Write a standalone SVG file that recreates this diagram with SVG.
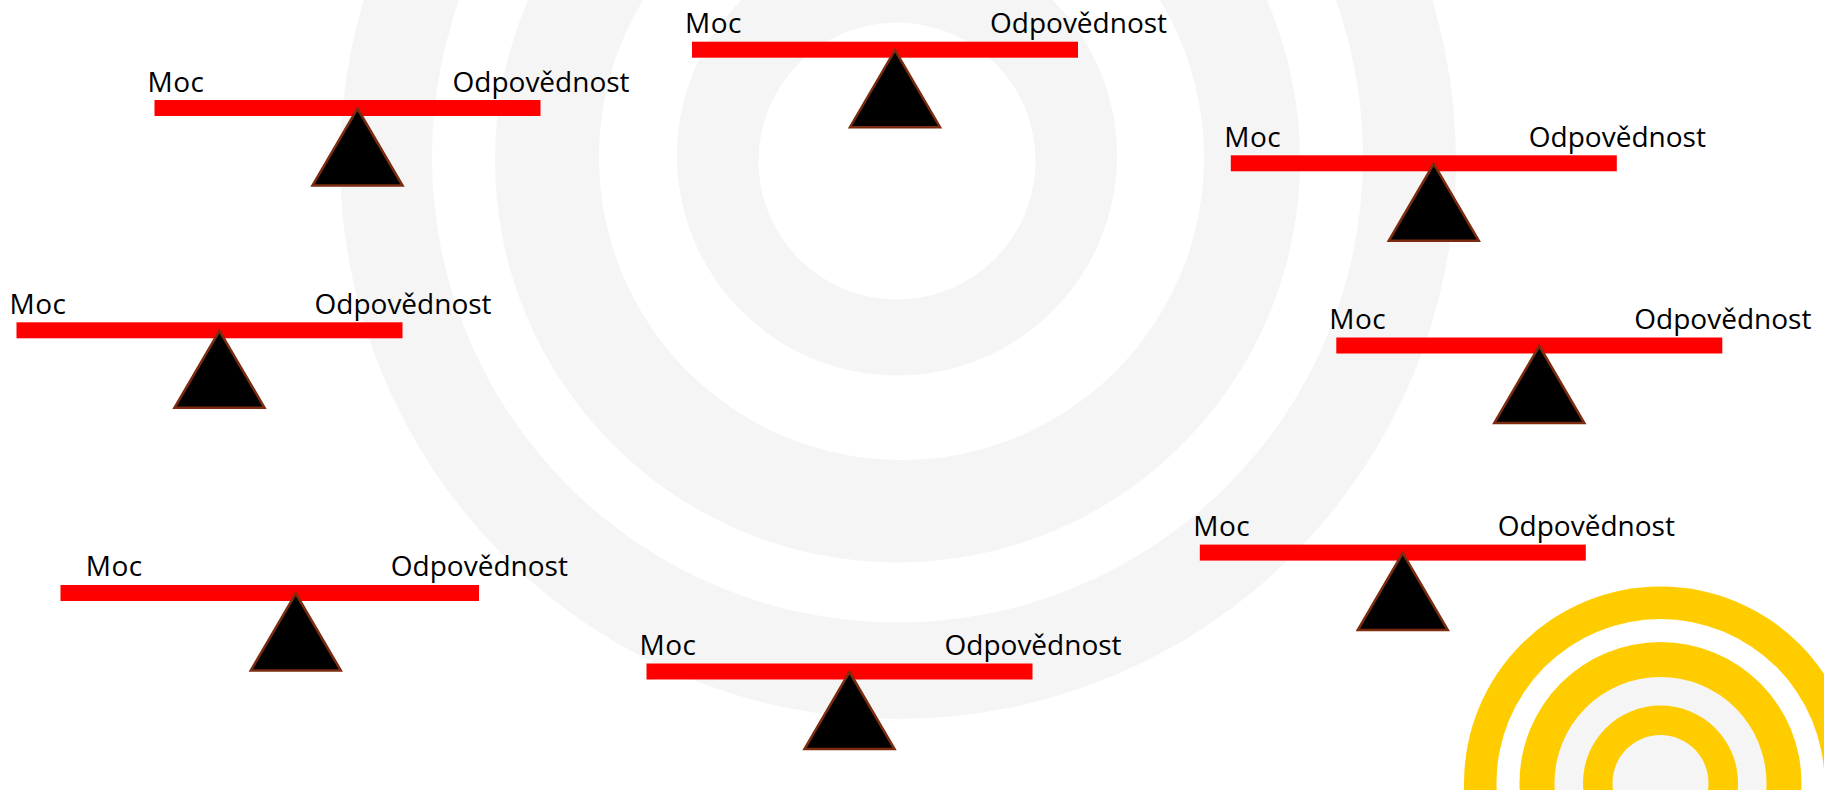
<svg xmlns="http://www.w3.org/2000/svg" width="1824" height="790" viewBox="0 0 1824 790">
<style>
.g{fill:#f5f5f5}.w{fill:#fff}.y{fill:#ffcc00}
.bar{fill:#f00}
.tri{fill:#000;stroke:#7b2c10;stroke-width:2.5;stroke-linejoin:miter}
text{font-family:"Open Sans","Noto Sans","Liberation Sans",sans-serif;font-size:28px;fill:#000}
.m{letter-spacing:.5px}
</style>
<defs>
<g id="seesaw"><rect class="bar" x="0" y="0" width="386" height="16"/><path class="tri" d="M203 8.500 L248 85.500 L158 85.500 Z"/></g>
</defs>
<g id="bg-rings">
<circle class="g" cx="898" cy="161" r="558"/><circle class="w" cx="897.500" cy="157" r="465.500"/>
<circle class="g" cx="897.500" cy="160" r="402.500"/><circle class="w" cx="901.500" cy="157.500" r="302.500"/>
<circle class="g" cx="897" cy="155.500" r="220"/><circle class="w" cx="897" cy="161" r="138.500"/>
</g>
<g id="corner-rings">
<circle class="y" cx="1660.500" cy="783" r="196.500"/><circle class="w" cx="1660.500" cy="783" r="164"/>
<circle class="y" cx="1660.500" cy="783" r="141"/><circle class="g" cx="1660.500" cy="783" r="106"/>
<circle class="y" cx="1660.500" cy="783" r="77.500"/><circle class="g" cx="1660.500" cy="783" r="48"/>
</g>
<g id="s0"><use href="#seesaw" x="692" y="41.700"/><text class="m" x="685" y="33">Moc</text><text x="990" y="33">Odpovědnost</text></g>
<g id="s1"><use href="#seesaw" x="154.500" y="100"/><text class="m" x="147.500" y="91.500">Moc</text><text x="452.500" y="91.500">Odpovědnost</text></g>
<g id="s2"><use href="#seesaw" x="1230.800" y="155.300"/><text class="m" x="1224.300" y="146.800">Moc</text><text x="1528.800" y="146.800">Odpovědnost</text></g>
<g id="s3"><use href="#seesaw" x="16.500" y="322.300"/><text class="m" x="9.500" y="313.800">Moc</text><text x="314.500" y="313.800">Odpovědnost</text></g>
<g id="s4"><use href="#seesaw" x="1336.300" y="337.500"/><text class="m" x="1329.300" y="329">Moc</text><text x="1634.300" y="329">Odpovědnost</text></g>
<g id="s5"><rect class="bar" x="60.500" y="585" width="418.500" height="16"/><use href="#seesaw" x="92.800" y="585"/><text class="m" x="85.800" y="575.500">Moc</text><text x="390.800" y="575.500">Odpovědnost</text></g>
<g id="s6"><use href="#seesaw" x="646.500" y="663.500"/><text class="m" x="639.500" y="655">Moc</text><text x="944.500" y="655">Odpovědnost</text></g>
<g id="s7"><use href="#seesaw" x="1199.800" y="544.600"/><text class="m" x="1193.300" y="536">Moc</text><text x="1497.800" y="536">Odpovědnost</text></g>
</svg>
